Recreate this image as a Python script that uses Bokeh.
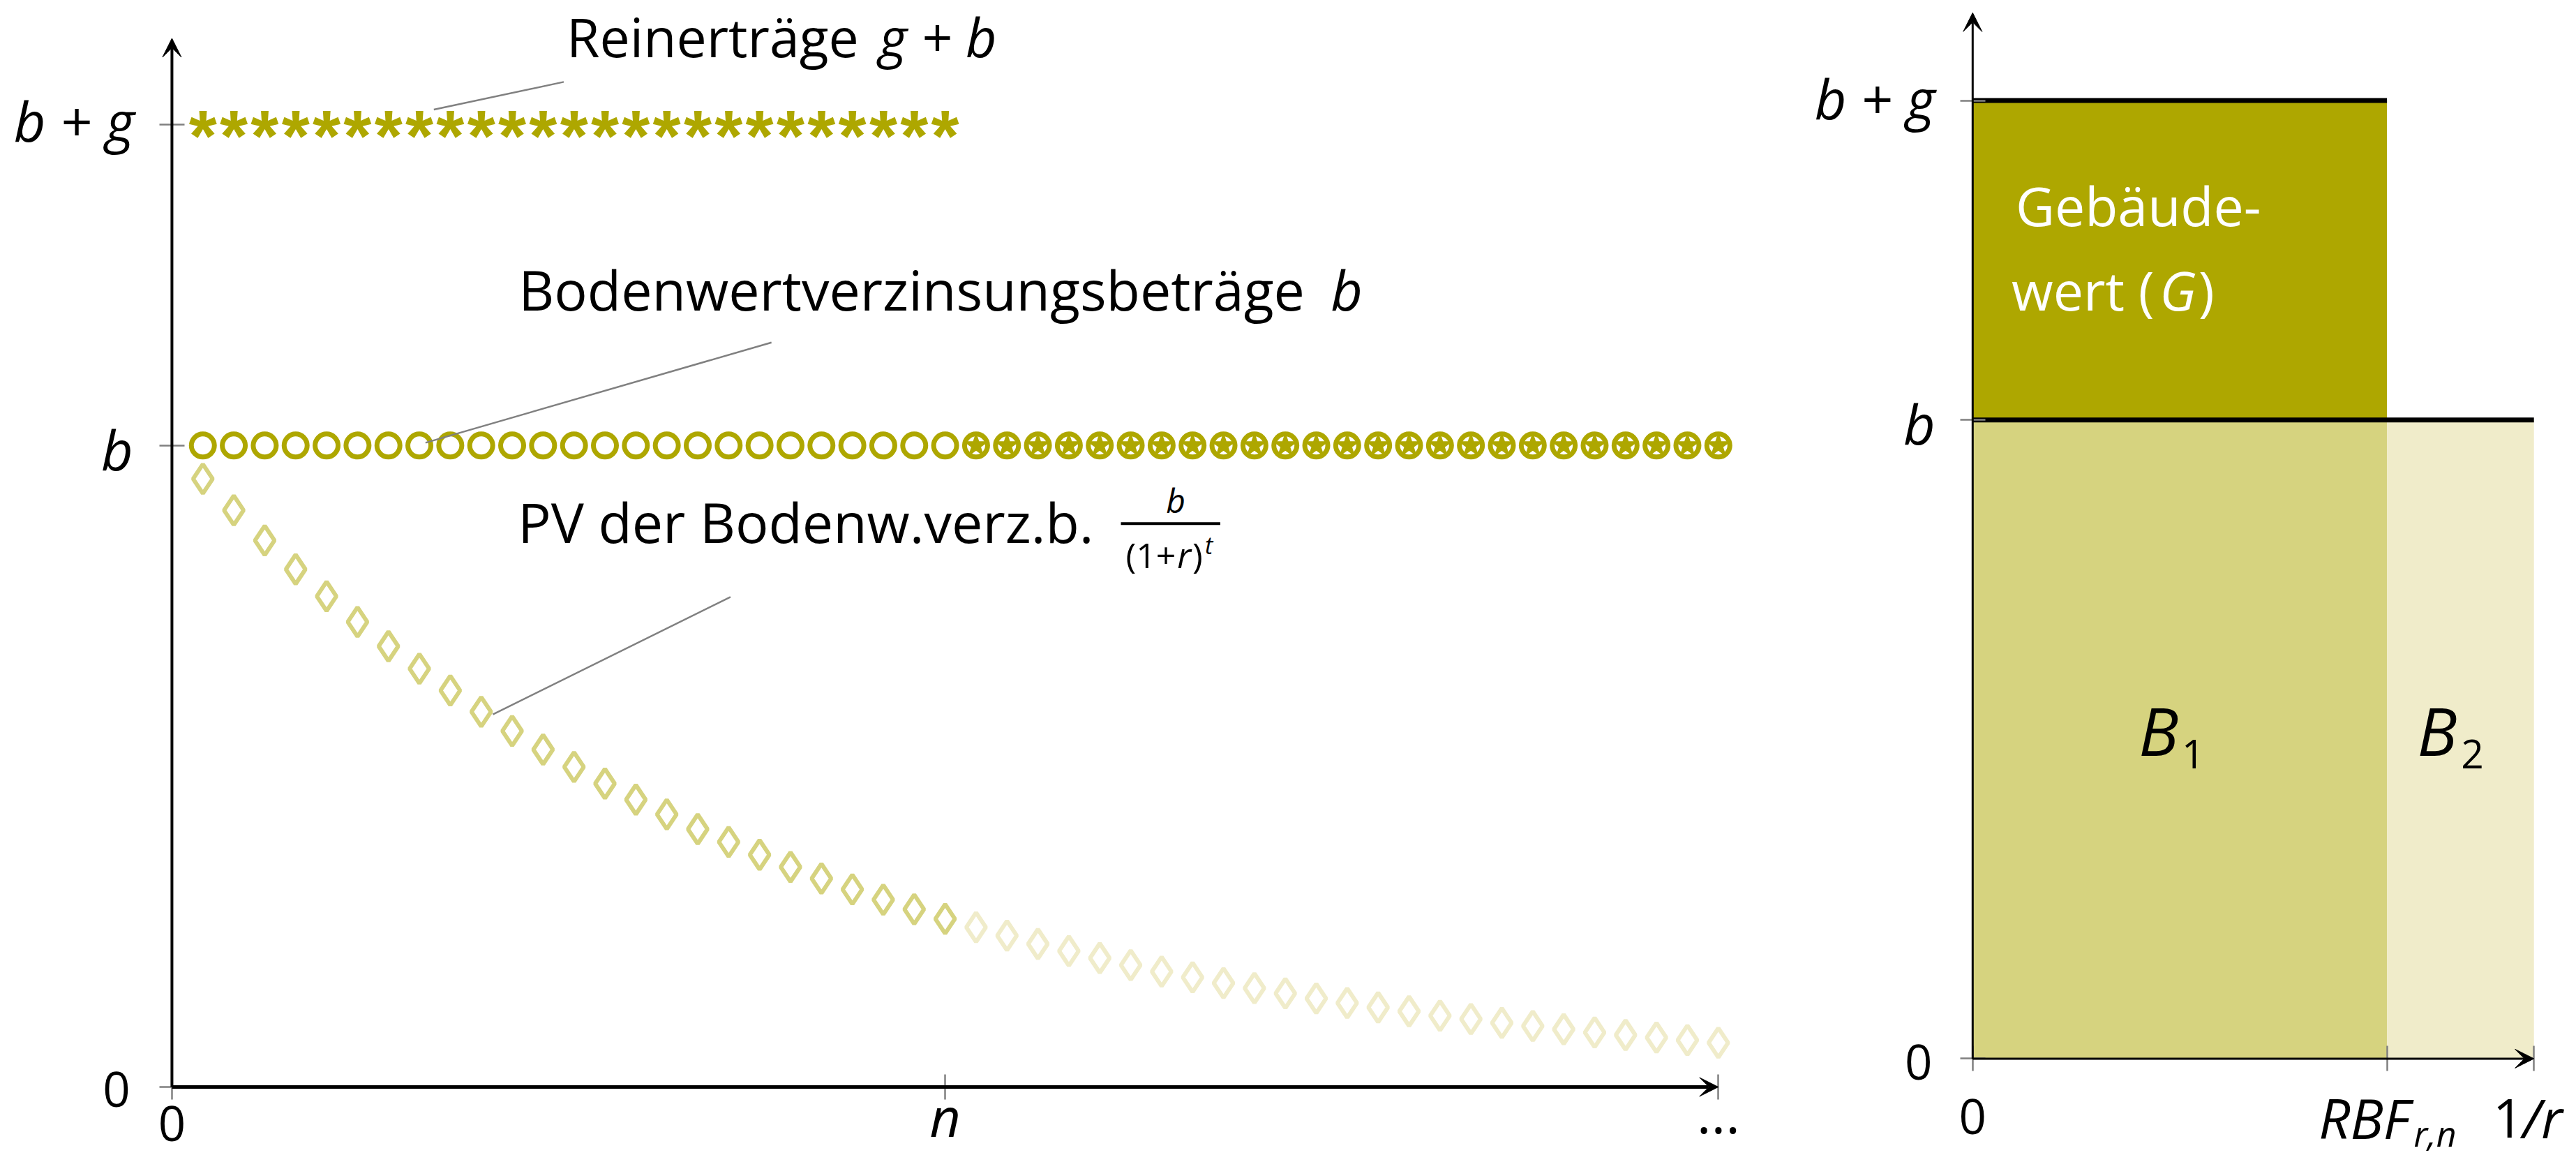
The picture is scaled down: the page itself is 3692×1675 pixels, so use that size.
from bokeh.plotting import figure
from bokeh.models import Range1d, LinearAxis, FixedTicker, Arrow, VeeHead, Label
from bokeh.layouts import row
from bokeh.embed import file_html
from bokeh.resources import INLINE
from bokeh.core.properties import value

# ---------------- data ----------------
t_reinertrag = list(range(1, 26))            # periods with net returns g + b
reinertrag = [1.5] * 25                       # b + g  (b = 1, g = 0.5)
t_boden = list(range(1, 51))                  # periods of land-value interest
boden = [1.0] * 50                            # b
n_periods = 25
pv_boden = [0.948, 0.899, 0.852, 0.807, 0.765, 0.725, 0.687, 0.652, 0.618, 0.585,
            0.555, 0.526, 0.499, 0.473, 0.448, 0.425, 0.402, 0.382, 0.362, 0.343,
            0.325, 0.308, 0.292, 0.277, 0.262, 0.249, 0.236, 0.223, 0.212, 0.201,
            0.190, 0.180, 0.171, 0.162, 0.154, 0.146, 0.138, 0.131, 0.124, 0.118,
            0.111, 0.106, 0.100, 0.095, 0.090, 0.085, 0.081, 0.077, 0.073, 0.069]
b_val = 1.0
g_val = 0.5
rbf = 13.42       # RBF_{r,n}
inv_r = 18.18     # 1/r
x_ticks_left = [0, 25, 50]
x_tick_labels_left = ["0", "n", "..."]
y_ticks = [0, 1.0, 1.5]
x_ticks_right = [0, rbf, inv_r]

# ---------------- style ----------------
DARK = "#aea700"
MID = "#d6d37f"
LIGHT = "#f0ecca"
GREY = "#808080"
FONT = "Open Sans"
TOTAL_W, TOTAL_H = 3676, 1659
SX, SY = TOTAL_W / 3692, TOTAL_H / 1675
BASE_SHIFT = 0.30   # baseline correction (fraction of font size)


def fs(v):
    return f"{round(v * SY)}px"


def style_axis(ax, ticks):
    ax.ticker = FixedTicker(ticks=ticks)
    ax.axis_line_color = None
    ax.major_tick_line_color = GREY
    ax.major_tick_line_width = 2.5
    ax.major_tick_in = 18
    ax.major_tick_out = 18
    ax.minor_tick_line_color = None
    ax.major_label_text_font_size = "0px"
    ax.major_label_overrides = {t: "" for t in ticks}


def base_fig(width, xr, yr):
    p = figure(width=width, height=TOTAL_H, output_backend="svg", toolbar_location=None,
               x_range=xr, y_range=yr, x_axis_location=None, y_axis_location=None)
    p.min_border = 0
    p.min_border_left = 0
    p.min_border_right = 0
    p.min_border_top = 0
    p.min_border_bottom = 0
    p.outline_line_color = None
    p.background_fill_color = "white"
    p.border_fill_color = "white"
    p.grid.visible = False
    return p


def lab(p, x, y, text, size, style="normal", align="left", color="black"):
    y = y + BASE_SHIFT * size / 926.0
    p.add_layout(Label(x=x, y=y, text=text, text_font=FONT, text_font_size=fs(size),
                       text_font_style=style, text_align=align, text_baseline="alphabetic",
                       text_color=color))


def head():
    return VeeHead(size=27, fill_color="black", line_color="black")


# ================= left figure =================
W1 = round(2560 * SX)
PXU_L, PYU_L = 44.52, 928.0
X0L, Y0L = 247, 1572


def LX(X):
    return (X - X0L) / PXU_L


def LY(Y):
    return (Y0L - Y) / PYU_L


p1 = base_fig(W1, Range1d(LX(0), LX(W1 / SX)), Range1d(LY(TOTAL_H / SY), LY(0)))

ax = LinearAxis(fixed_location=0)
style_axis(ax, x_ticks_left)
p1.add_layout(ax, "below")
ay = LinearAxis(fixed_location=0)
style_axis(ay, y_ticks)
p1.add_layout(ay, "left")

# diamonds (present value)
p1.scatter(t_boden[:n_periods], pv_boden[:n_periods], marker="diamond", size=42,
           line_color=MID, line_width=6, fill_color=None)
p1.scatter(t_boden[n_periods:], pv_boden[n_periods:], marker="diamond", size=42,
           line_color=LIGHT, line_width=6, fill_color=None)

# circles (land value interest)
p1.scatter(t_boden[:n_periods], boden[:n_periods], marker="circle", size=33,
           line_color=DARK, line_width=7, fill_color="white")
p1.scatter(t_boden[n_periods:], boden[n_periods:], marker="circle", size=33,
           line_color=DARK, line_width=7, fill_color="white")
p1.scatter(t_boden[n_periods:], boden[n_periods:], marker="star", size=26,
           line_color=DARK, line_width=4, fill_color=DARK)

# asterisks (net returns)
p1.text(t_reinertrag, reinertrag, text=["*"] * len(t_reinertrag),
        text_font=value("Liberation Sans"), text_font_style="bold",
        text_font_size=fs(104), text_color=DARK, text_align="center",
        text_baseline="middle", y_offset=17)

# leader lines
p1.segment(x0=[LX(811), LX(1110), LX(1051)], y0=[LY(118), LY(495), LY(863)],
           x1=[LX(624), LX(612), LX(709)], y1=[LY(158), LY(640), LY(1033)],
           line_color=GREY, line_width=2.5)

# axes arrows
p1.add_layout(Arrow(end=head(), x_start=0, y_start=0, x_end=x_ticks_left[-1], y_end=0,
                    line_color="black", line_width=5))
p1.add_layout(Arrow(end=head(), x_start=0, y_start=0, x_end=0, y_end=LY(55),
                    line_color="black", line_width=4))

# tick labels
lab(p1, LX(193), LY(198), "b + g", 80, "italic", "right")
lab(p1, LX(191), LY(673), "b", 80, "italic", "right")
lab(p1, LX(187), LY(1597), "0", 70, "normal", "right")
lab(p1, x_ticks_left[0], LY(1646), x_tick_labels_left[0], 70, "normal", "center")
lab(p1, x_ticks_left[1], LY(1638), x_tick_labels_left[1], 78, "italic", "center")
lab(p1, x_ticks_left[2], LY(1634), x_tick_labels_left[2], 80, "normal", "center")

# annotations
lab(p1, LX(815), LY(76), "Reinerträge", 78)
lab(p1, LX(1265), LY(76), "g + b", 78, "italic")
lab(p1, LX(746), LY(442), "Bodenwertverzinsungsbeträge", 80)
lab(p1, LX(1915), LY(442), "b", 80, "italic")
lab(p1, LX(745), LY(778), "PV der Bodenw.verz.b.", 80)
lab(p1, LX(1692), LY(737), "b", 48, "italic", "center")
p1.segment(x0=[LX(1613)], y0=[LY(757)], x1=[LX(1756)], y1=[LY(757)],
           line_color="black", line_width=4)
lab(p1, LX(1620), LY(817), "(1+", 50)
lab(p1, LX(1694), LY(817), "r", 50, "italic")
lab(p1, LX(1716), LY(817), ")", 50)
lab(p1, LX(1734), LY(798), "t", 34, "italic")

# ================= right figure =================
W2 = TOTAL_W - W1
PXU_R, PYU_R = 44.44, 924.0
X0R, Y0R = 2839, 1531
XOFF = 2560


def RX(X):
    return (X - X0R) / PXU_R


def RY(Y):
    return (Y0R - Y) / PYU_R


p2 = base_fig(W2, Range1d(RX(XOFF), RX(XOFF + W2 / SX)), Range1d(RY(TOTAL_H / SY), RY(0)))

bx = LinearAxis(fixed_location=0)
style_axis(bx, x_ticks_right)
p2.add_layout(bx, "below")
by = LinearAxis(fixed_location=0)
style_axis(by, y_ticks)
p2.add_layout(by, "left")

# areas
p2.quad(left=[0, 0, rbf], right=[rbf, rbf, inv_r],
        bottom=[b_val, 0, 0], top=[b_val + g_val, b_val, b_val],
        fill_color=[DARK, MID, LIGHT], line_color=None)
# level lines
p2.segment(x0=[0, 0], y0=[b_val + g_val, b_val], x1=[rbf, inv_r],
           y1=[b_val + g_val, b_val], line_color="black", line_width=7)

p2.add_layout(Arrow(end=head(), x_start=0, y_start=0, x_end=inv_r, y_end=0,
                    line_color="black", line_width=3))
p2.add_layout(Arrow(end=head(), x_start=0, y_start=0, x_end=0, y_end=RY(18),
                    line_color="black", line_width=3))

# tick labels
lab(p2, RX(2785), RY(165), "b + g", 80, "italic", "right")
lab(p2, RX(2785), RY(636), "b", 80, "italic", "right")
lab(p2, RX(2781), RY(1557), "0", 70, "normal", "right")
lab(p2, 0, RY(1636), "0", 70, "normal", "center")
lab(p2, RX(3468), RY(1640), "RBF", 80, "italic", "right")
lab(p2, RX(3474), RY(1654), "r,n", 50, "italic")
lab(p2, RX(3632), RY(1640), "1", 78, "normal", "right")
lab(p2, RX(3688), RY(1640), "/r", 78, "italic", "right")

# area labels
lab(p2, RX(2901), RY(320), "Gebäude-", 78, color="white")
lab(p2, RX(2895), RY(442), "wert (", 78, color="white")
lab(p2, RX(3108), RY(442), "G", 78, "italic", color="white")
lab(p2, RX(3164), RY(442), ")", 78, color="white")
lab(p2, RX(3078), RY(1084), "B", 96, "italic")
lab(p2, RX(3140), RY(1108), "1", 58)
lab(p2, RX(3479), RY(1084), "B", 96, "italic")
lab(p2, RX(3542), RY(1108), "2", 58)

layout = row(p1, p2)
open("out.html", "w").write(file_html(layout, INLINE))
